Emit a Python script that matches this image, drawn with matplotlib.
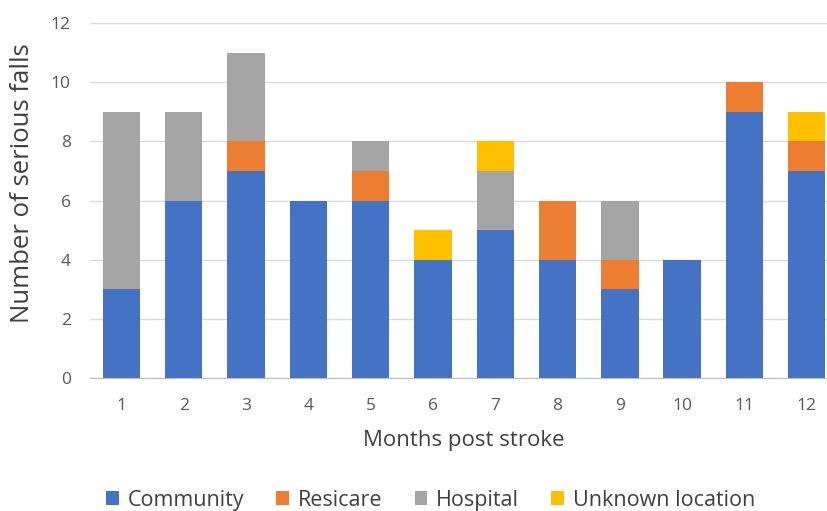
import numpy as np
from matplotlib import pyplot as plt

plt.rcParams['font.family'] = ['Open Sans', 'DejaVu Sans']

months = [str(m) for m in range(1, 13)]
community = [3, 6, 7, 6, 6, 4, 5, 4, 3, 4, 9, 7]
resicare = [0, 0, 1, 0, 1, 0, 0, 2, 1, 0, 1, 1]
hospital = [6, 3, 3, 0, 1, 0, 2, 0, 2, 0, 0, 0]
unknown = [0, 0, 0, 0, 0, 1, 1, 0, 0, 0, 0, 1]

series = [
    ("Community", community, "#4472C4"),
    ("Resicare", resicare, "#ED7D31"),
    ("Hospital", hospital, "#A5A5A5"),
    ("Unknown location", unknown, "#FFC000"),
]

fig = plt.figure(figsize=(8.28, 5.11), dpi=100)
ax = fig.add_axes([0.109, 0.26, 0.903, 0.695])

x = np.arange(len(months))
bottom = np.zeros(len(months))
for name, vals, col in series:
    ax.bar(x, vals, 0.6, bottom=bottom, color=col, label=name, zorder=3)
    bottom += np.array(vals)

ax.set_xlim(-0.5, len(months) - 0.5)
ax.set_ylim(0, 12)
ax.set_yticks(range(0, 13, 2))
ax.set_xticks(x)
ax.set_xticklabels(months)
ax.grid(axis='y', color='#D9D9D9', linewidth=1, zorder=0)
for s in ['top', 'right', 'left']:
    ax.spines[s].set_visible(False)
ax.spines['bottom'].set_color('#BFBFBF')
ax.tick_params(length=0, labelsize=12.5, colors='#595959')
ax.tick_params(axis='x', pad=14)
ax.tick_params(axis='y', pad=14)
ax.set_xlabel('Months post stroke', fontsize=16, color='#404040', labelpad=12)
ax.set_ylabel('Number of serious falls', fontsize=18.5, color='#404040', va='center')
ax.yaxis.set_label_coords(-0.091, 0.55)

fig.legend(loc='lower center', ncol=4, frameon=False, fontsize=15.5,
           bbox_to_anchor=(0.52, -0.037), handlelength=0.6, handleheight=0.6,
           columnspacing=1.5, handletextpad=0.4, labelcolor='#404040')

fig.savefig('out.png', dpi=100)
